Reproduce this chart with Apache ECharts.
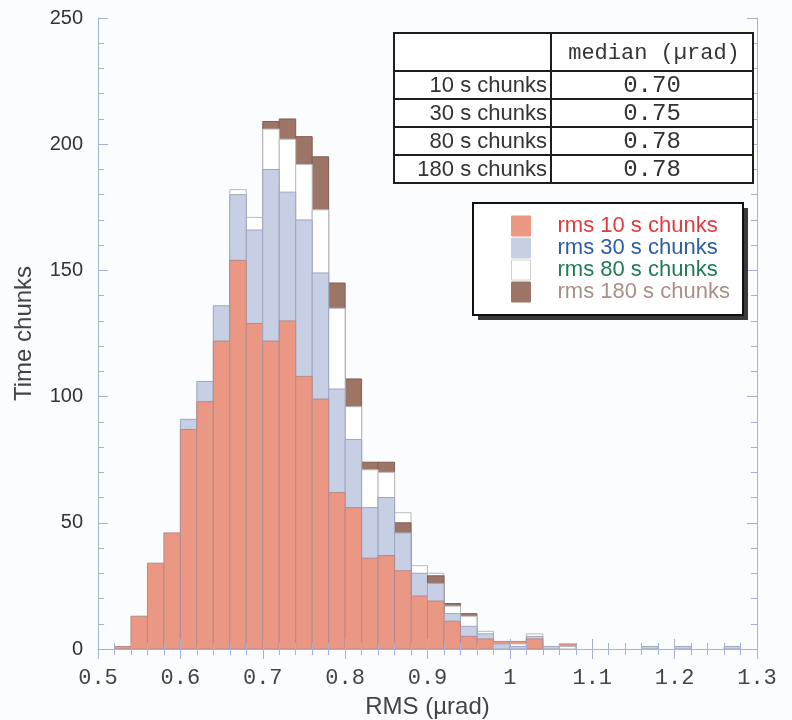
<!DOCTYPE html>
<html>
<head>
<meta charset="utf-8">
<script src="https://cdn.jsdelivr.net/npm/echarts@6/dist/echarts.min.js"></script>
<style>
  html, body { margin: 0; padding: 0; background: #fbfcfe; }
  #chart { width: 792px; height: 720px; }
</style>
</head>
<body>
<div id="chart"></div>
<script>
// Histogram bins (left edge of each bin, width 0.02 µrad)
const binStart = [
  0.50, 0.52, 0.54, 0.56, 0.58, 0.60, 0.62, 0.64, 0.66, 0.68,
  0.70, 0.72, 0.74, 0.76, 0.78, 0.80, 0.82, 0.84, 0.86, 0.88,
  0.90, 0.92, 0.94, 0.96, 0.98, 1.00, 1.02, 1.04, 1.06, 1.08,
  1.10, 1.12, 1.14, 1.16, 1.18, 1.20, 1.22, 1.24, 1.26, 1.28
];
const binWidth = 0.02;

// Counts of time chunks per RMS bin, one list per chunk length
const rms10s = [
  0, 1, 13, 34, 46, 87, 98, 122, 154, 129,
  122, 130, 108, 99, 62, 56, 36, 37, 31, 21,
  19, 11, 5, 4, 3, 3, 4, 0, 2, 0,
  0, 0, 0, 0, 0, 0, 0, 0, 0, 0
];
const rms30s = [
  0, 0, 0, 0, 0, 91, 106, 136, 180, 166,
  190, 181, 170, 149, 103, 83, 56, 60, 46, 30,
  26, 14, 9, 6, 2, 1, 5, 1, 0, 0,
  0, 0, 0, 1, 0, 1, 0, 0, 1, 0
];
const rms80s = [
  0, 0, 0, 0, 0, 0, 0, 0, 182, 171,
  206, 202, 192, 174, 135, 96, 71, 70, 54, 33,
  30, 17, 13, 7, 0, 2, 6, 0, 1, 0,
  0, 0, 0, 0, 0, 0, 0, 0, 0, 0
];
const rms180s = [
  0, 0, 0, 0, 0, 0, 0, 0, 0, 0,
  209, 210, 203, 195, 145, 107, 74, 74, 50, 0,
  29, 18, 14, 0, 0, 0, 0, 0, 0, 0,
  0, 0, 0, 0, 0, 0, 0, 0, 0, 0
];

// Axis tick labels
const xTickLabels = ['0.5', '0.6', '0.7', '0.8', '0.9', '1', '1.1', '1.2', '1.3'];
const yTickLabels = ['0', '50', '100', '150', '200', '250'];

// Median table
const tableHeader = 'median (µrad)';
const tableRows = ['10 s chunks', '30 s chunks', '80 s chunks', '180 s chunks'];
const tableMedians = ['0.70', '0.75', '0.78', '0.78'];

const seriesNames = ['rms 10 s chunks', 'rms 30 s chunks', 'rms 80 s chunks', 'rms 180 s chunks'];
const seriesValues = [rms10s, rms30s, rms80s, rms180s];
const fillColors = ['#ea9783', '#c6cfe4', '#ffffff', '#9c7567'];
const edgeColors = ['#b48a8c', '#9ea6c0', '#b9b9bf', '#7e5f55'];
const legendTextColors = ['#e03a3c', '#2c5da3', '#1f7b56', '#a98f88'];

const axisColor = '#a9b0d6';
const sansFont = '"Liberation Sans", Arial, sans-serif';
const monoFont = '"Liberation Mono", "DejaVu Sans Mono", monospace';

// Overlaid histograms: in every bin the tallest bar sits at the back,
// so each chunk length shows as its own band.
function makeRenderer(k) {
  return function (params, api) {
    const x0 = api.value(0);
    const v = api.value(1);
    if (!(v > 0)) return null;
    const i = params.dataIndex;
    let order = 0;
    for (let j = 0; j < seriesValues.length; j++) {
      const w = seriesValues[j][i];
      if (w > v || (w === v && j < k)) order++;
    }
    const pTop = api.coord([x0, v]);
    const pBot = api.coord([x0 + binWidth, 0]);
    return {
      type: 'rect',
      z2: 10 + order,
      shape: { x: pTop[0], y: pTop[1], width: pBot[0] - pTop[0], height: pBot[1] - pTop[1] },
      style: { fill: fillColors[k], stroke: edgeColors[k], lineWidth: 1 }
    };
  };
}

const series = seriesNames.map((name, k) => ({
  name: name,
  type: 'custom',
  xAxisIndex: 0,
  yAxisIndex: 0,
  clip: true,
  itemStyle: { color: fillColors[k], borderColor: edgeColors[k] },
  encode: { x: 0, y: 1 },
  data: binStart.map((x, i) => [x, seriesValues[k][i]]),
  renderItem: makeRenderer(k)
}));

// Median table drawn as graphic elements
const tbl = { x: 394, y: 33, w: 359, headH: 38, rowH: 28, col: 157 };
const tableElements = [];
const tblH = tbl.headH + tbl.rowH * tableRows.length;
tableElements.push({
  type: 'rect', z: 20,
  shape: { x: tbl.x, y: tbl.y, width: tbl.w, height: tblH },
  style: { fill: '#ffffff', stroke: '#1e1e1e', lineWidth: 2 }
});
tableElements.push({
  type: 'line', z: 21,
  shape: { x1: tbl.x + tbl.col, y1: tbl.y, x2: tbl.x + tbl.col, y2: tbl.y + tblH },
  style: { stroke: '#1e1e1e', lineWidth: 2 }
});
for (let r = 0; r < tableRows.length; r++) {
  const top = tbl.y + tbl.headH + r * tbl.rowH;
  tableElements.push({
    type: 'line', z: 21,
    shape: { x1: tbl.x, y1: top, x2: tbl.x + tbl.w, y2: top },
    style: { stroke: '#1e1e1e', lineWidth: 2 }
  });
  tableElements.push({
    type: 'text', z: 22, x: tbl.x + tbl.col - 4, y: top + tbl.rowH / 2 + 1,
    style: { text: tableRows[r], fill: '#333333', font: '22px ' + sansFont, align: 'right', verticalAlign: 'middle' }
  });
  tableElements.push({
    type: 'text', z: 22, x: tbl.x + tbl.col + (tbl.w - tbl.col) / 2, y: top + tbl.rowH / 2 + 1,
    style: { text: tableMedians[r], fill: '#333333', font: '24px ' + monoFont, align: 'center', verticalAlign: 'middle' }
  });
}
tableElements.push({
  type: 'text', z: 22, x: tbl.x + tbl.col + (tbl.w - tbl.col) / 2 + 2, y: tbl.y + tbl.headH / 2 + 1,
  style: { text: tableHeader, fill: '#333333', font: '22px ' + monoFont, align: 'center', verticalAlign: 'middle' }
});

// Frame of the legend box with its drop shadow
const legendBox = { x: 473, y: 203, w: 270, h: 112 };
const legendFrame = [
  {
    type: 'rect', z: 15,
    shape: { x: legendBox.x + 5, y: legendBox.y + 5, width: legendBox.w, height: legendBox.h },
    style: { fill: '#3a3a3a' }
  },
  {
    type: 'rect', z: 16,
    shape: { x: legendBox.x, y: legendBox.y, width: legendBox.w, height: legendBox.h },
    style: { fill: '#ffffff', stroke: '#111111', lineWidth: 2 }
  }
];

const baseAxis = {
  axisLine: { show: true, lineStyle: { color: axisColor, width: 1 } },
  axisTick: { show: true, inside: true, length: 10, lineStyle: { color: axisColor } },
  minorTick: { show: true, splitNumber: 5, length: 6, lineStyle: { color: axisColor } },
  splitLine: { show: false },
  z: 5
};

const option = {
  backgroundColor: '#fbfcfe',
  animation: false,
  grid: { left: 98, right: 35, top: 18, bottom: 71, containLabel: false, outerBoundsMode: 'none' },
  xAxis: [
    Object.assign({}, baseAxis, {
      type: 'value', min: 0.5, max: 1.3, interval: 0.1, position: 'bottom',
      name: 'RMS (µrad)', nameLocation: 'middle', nameGap: 46,
      nameTextStyle: { fontFamily: sansFont, fontSize: 24, color: '#444444' },
      axisLabel: {
        margin: 18, fontFamily: monoFont, fontSize: 22, color: '#444444',
        formatter: v => xTickLabels[Math.round((v - 0.5) / 0.1)] || ''
      }
    }),
    Object.assign({}, baseAxis, {
      type: 'value', min: 0.5, max: 1.3, interval: 0.1, position: 'top',
      axisLabel: { show: false }
    })
  ],
  yAxis: [
    Object.assign({}, baseAxis, {
      type: 'value', min: 0, max: 250, interval: 50, position: 'left',
      name: 'Time chunks', nameLocation: 'middle', nameGap: 62,
      nameTextStyle: { fontFamily: sansFont, fontSize: 24, color: '#444444' },
      axisLabel: {
        margin: 15, fontFamily: sansFont, fontSize: 20, color: '#333333',
        formatter: v => yTickLabels[Math.round(v / 50)] || ''
      }
    }),
    Object.assign({}, baseAxis, {
      type: 'value', min: 0, max: 250, interval: 50, position: 'right',
      axisLabel: { show: false }
    })
  ],
  legend: {
    orient: 'vertical',
    left: legendBox.x, top: legendBox.y,
    padding: [12, 10, 12, 38],
    itemWidth: 19, itemHeight: 20, itemGap: 0,
    selectedMode: false,
    icon: 'rect',
    z: 20,
    textStyle: { fontFamily: sansFont, fontSize: 22, lineHeight: 20, padding: [0, 0, 0, 22] },
    data: seriesNames.map((name, k) => ({
      name: name,
      itemStyle: { color: fillColors[k], borderColor: k === 2 ? '#d0d0d0' : fillColors[k], borderWidth: 1 },
      textStyle: { color: legendTextColors[k] }
    }))
  },
  graphic: tableElements.concat(legendFrame),
  series: series
};

const chart = echarts.init(document.getElementById('chart'), null, { renderer: 'canvas' });
chart.setOption(option);
</script>
</body>
</html>
